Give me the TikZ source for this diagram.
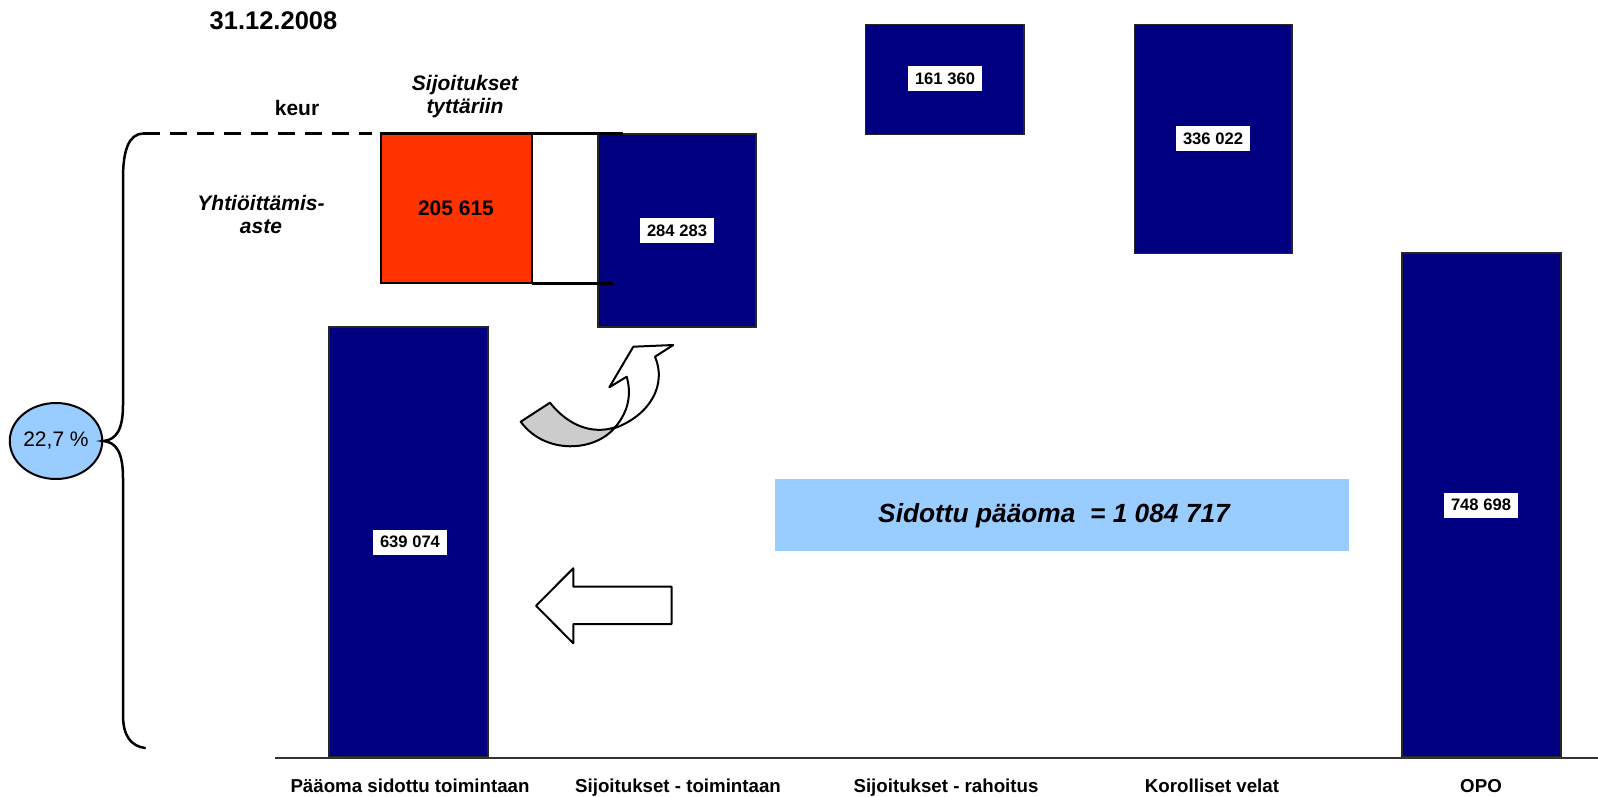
\documentclass[tikz,border=0pt]{standalone}
\usepackage{fontspec}
\setmainfont{Liberation Sans}
\usetikzlibrary{shapes.geometric}
\definecolor{navy}{RGB}{0,0,128}
\definecolor{orng}{RGB}{255,51,0}
\definecolor{lblue}{RGB}{153,204,255}
\definecolor{lgray}{RGB}{204,204,204}
\tikzset{
  bar/.style={draw=black!85, line width=1.2pt, fill=navy},
  vlabel/.style={fill=white, inner sep=0pt, minimum width=74pt, minimum height=25pt,
    font=\bfseries\fontsize{16.6}{20}\selectfont},
  axlabel/.style={anchor=base, font=\bfseries\fontsize{18.7}{22}\selectfont},
  hdri/.style={font=\bfseries\itshape\fontsize{21}{22.5}\selectfont, align=center},
  outl/.style={draw=black, line width=2pt, line join=round}
}
\begin{document}
\begin{tikzpicture}[x=1pt,y=-1pt]
\useasboundingbox (0,0) rectangle (1598,796);

% light blue band
\fill[lblue] (774.5,479) rectangle (1349,551);
\node[anchor=base, font=\bfseries\itshape\fontsize{26.3}{30}\selectfont] (sp) at (1054,522) {Sidottu pääoma\ \ = 1 084 717};

% bars
\draw[bar] (329,327) rectangle (488,757);
\draw[bar] (598,134) rectangle (756,327);
\draw[bar] (865.7,24.3) rectangle (1024,134.3);
\draw[bar] (1134.7,24.3) rectangle (1292,253.3);
\draw[bar] (1402,253) rectangle (1561,757);

% orange box
\draw[fill=orng, draw=black, line width=2pt] (380.7,134) rectangle (532,283);
\draw[line width=3pt] (380,133.5) -- (623,133.5);
\draw[line width=3pt] (532,283) -- (613,283);
\draw[line width=2.5pt, dash pattern=on 17pt off 10pt] (143,133.5) -- (372,133.5);

% baseline
\draw[line width=2pt, black!80] (275,757.5) -- (1598,757.5);

% value labels
\node[vlabel] (v1) at (410,542) {639 074};
\node[vlabel] (v2) at (677,230.5) {284 283};
\node[vlabel] (v3) at (945,78.7) {161 360};
\node[vlabel] (v4) at (1213,138.4) {336 022};
\node[vlabel] (v5) at (1481,505) {748 698};
\node[anchor=base, font=\bfseries\fontsize{21}{24}\selectfont] (v0) at (456,215.7) {205 615};

% texts
\node[anchor=base, font=\bfseries\fontsize{25.5}{28}\selectfont] (title) at (273.5,29.3) {31.12.2008};
\node[anchor=base, font=\bfseries\fontsize{21}{24}\selectfont] (keur) at (297,115) {keur};
\node[anchor=base, hdri] (sij1) at (465,90) {Sijoitukset};
\node[anchor=base, hdri] (sij2) at (465,113) {tyttäriin};
\node[anchor=base, hdri] (yht1) at (261,210.7) {Yhtiöittämis-};
\node[anchor=base, hdri] (yht2) at (261,233) {aste};

% bottom labels
\node[axlabel] (l1) at (410,792) {Pääoma sidottu toimintaan};
\node[axlabel] (l2) at (678,792) {Sijoitukset - toimintaan};
\node[axlabel] (l3) at (946,792) {Sijoitukset - rahoitus};
\node[axlabel] (l4) at (1212,792) {Korolliset velat};
\node[axlabel] (l5) at (1481,792) {OPO};

% percentage ellipse and brace
\node[draw=black, line width=2pt, fill=lblue, ellipse, minimum width=92pt, minimum height=76pt, inner sep=0pt,
  font=\fontsize{21}{24}\selectfont] (pct) at (56,441) {22,7 \%};
\draw[line width=2.5pt, line cap=round]
  (143,133.5) .. controls (129,134) and (123,150) .. (123,178)
  -- (123,405) .. controls (123,430) and (116,440) .. (pct.east)
  .. controls (116,442) and (123,452) .. (123,478)
  -- (123,715) .. controls (123,736) and (131,746) .. (145,748);

% curved arrow
\draw[outl, fill=lgray] (520.7,421.7) -- (550,402.7)
  .. controls (570,428) and (595,434) .. (615,427.3)
  .. controls (595,452) and (545,455) .. cycle;
\draw[outl, fill=white] (615,427.3)
  .. controls (630,410) and (631,392) .. (626.7,376.7)
  -- (609.3,387.3) -- (633.3,346.7) -- (673.3,345) -- (655,356.7)
  .. controls (667,385) and (650,415) .. (615,428);

% block arrow
\draw[outl, fill=white] (536,605.7) -- (573.3,568.3) -- (573.3,586.7) -- (671.7,586.7)
  -- (671.7,624) -- (573.3,624) -- (573.3,643.3) -- cycle;
\end{tikzpicture}
\end{document}
